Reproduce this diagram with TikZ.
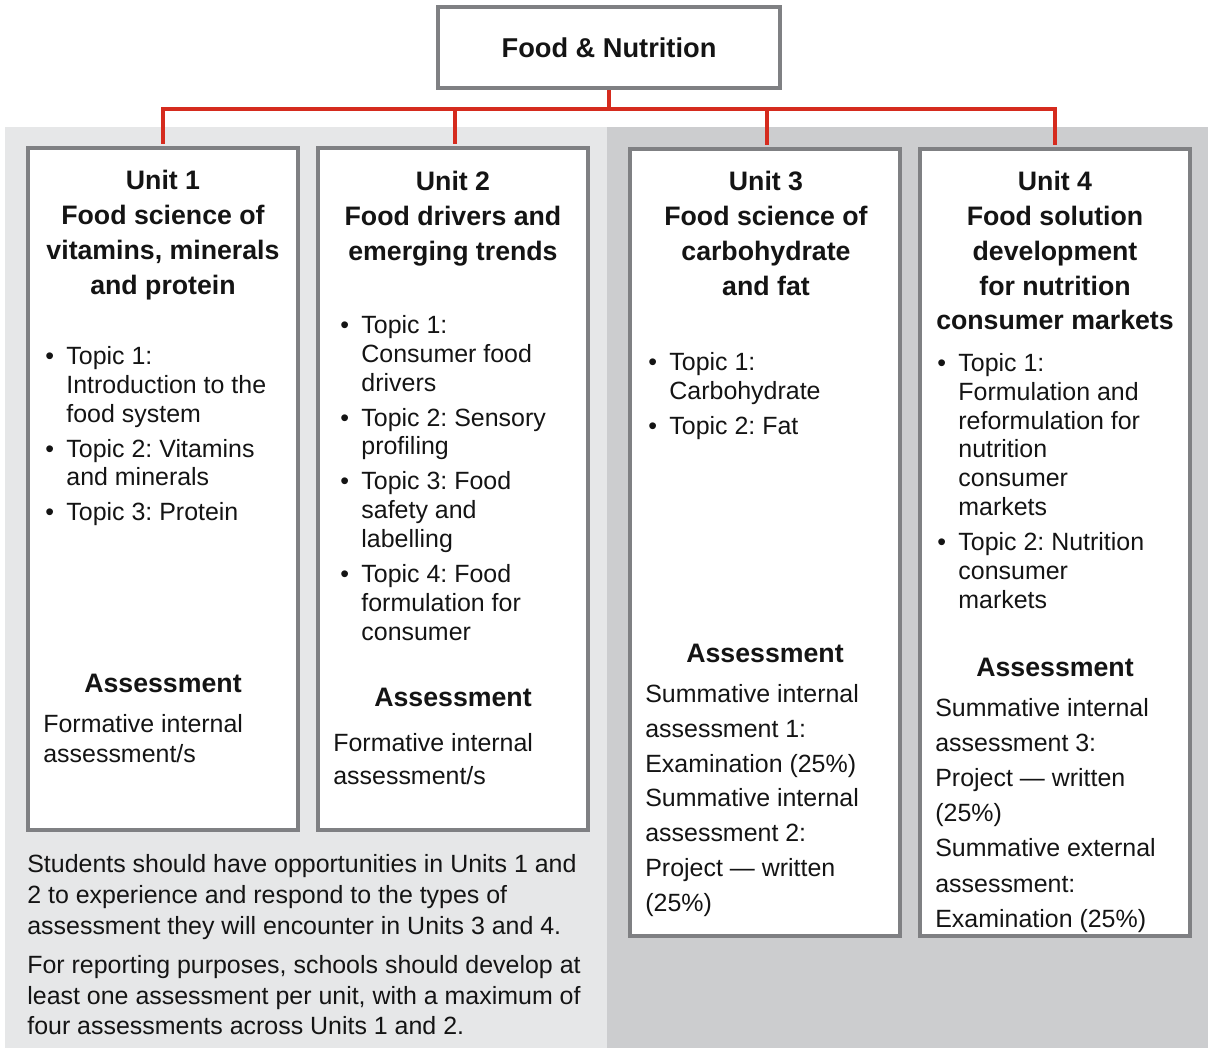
\documentclass[tikz,border=0pt]{standalone}
\usepackage{fontspec}
\setmainfont{Liberation Sans}
\usepackage{xcolor}
\definecolor{fnRed}{HTML}{D52B1E}
\definecolor{fnBorder}{HTML}{7F8083}
\definecolor{fnPaleGray}{HTML}{E6E7E8}
\definecolor{fnMidGray}{HTML}{CCCDCF}
\definecolor{fnText}{HTML}{141414}
\usepackage{tikz}
\usetikzlibrary{positioning,shadows,calc}
\frenchspacing
\newcommand{\topicdot}{\makebox[12pt][l]{\textbullet}}
\newcommand{\topicind}{\hspace*{12pt}}
\tikzset{
    topbox/.style={
        draw=fnBorder,
        fill=white,
        rectangle,
        line width=2.3pt,
        minimum width=6.84cm,
        minimum height=1.62cm,
        drop shadow={shadow xshift=0.8pt, shadow yshift=-0.8pt, opacity=0.3},
        font=\fontsize{15.5}{19}\selectfont\bfseries,
        text=fnText
    },
    unitbox/.style={
        draw=fnBorder,
        fill=white,
        rectangle,
        line width=2.3pt,
        anchor=north west,
        minimum width=5.42cm,
        drop shadow={shadow xshift=0.8pt, shadow yshift=-0.8pt, opacity=0.3}
    },
    redline/.style={
        draw=fnRed,
        line width=2.4pt,
        shorten >=1pt
    },
    unittitle/.style={
        anchor=north,
        align=center,
        inner sep=0pt,
        text=fnText,
        font=\fontsize{15.2}{19.8}\selectfont\bfseries
    },
    topiclist/.style={
        anchor=north west,
        align=left,
        inner sep=0pt,
        text=fnText,
        font=\fontsize{14.2}{16.4}\selectfont
    },
    assesshead/.style={
        inner sep=0pt,
        text=fnText,
        font=\fontsize{15.2}{19.8}\selectfont\bfseries
    },
    assesstext/.style={
        anchor=north west,
        align=left,
        inner sep=0pt,
        text=fnText,
        font=\fontsize{14.2}{#1}\selectfont
    },
    notetext/.style={
        anchor=north west,
        align=left,
        inner sep=0pt,
        text=fnText,
        font=\fontsize{14.2}{17.6}\selectfont
    }
}

\begin{document}
\begin{tikzpicture}[x=0.02cm, y=-0.02cm]
    \useasboundingbox (0,0) rectangle (1208,1048);

    % Background panels
    \fill[fnPaleGray] (5,127) rectangle (606.5,1048);
    \fill[fnMidGray] (606.5,127) rectangle (1208,1048);

    % Course and units
    \node[topbox] (course) at (609,47.5) {Food \& Nutrition};
    \node[unitbox, minimum height=13.66cm] (u1) at (25.5,145.5) {};
    \node[unitbox, minimum height=13.66cm] (u2) at (315.5,145.5) {};
    \node[unitbox, minimum height=15.74cm] (u3) at (627.5,147) {};
    \node[unitbox, minimum height=15.74cm] (u4) at (917.5,147) {};

    % Connectors
    \coordinate (hub) at (609,109);
    \draw[redline] (course.south) -- (hub) -| (u1.north);
    \draw[redline] (hub) -| ($(u2.north)+(2,0)$);
    \draw[redline] (hub) -| ($(u3.north)+(2,0)$);
    \draw[redline] (hub) -| (u4.north);

    % Unit 1
    \node[unittitle] (t1) at (163,170) {Unit 1\\Food science of\\vitamins, minerals\\and protein};
    \node[topiclist] (l1) at (45,346) {\topicdot Topic 1:\\\topicind Introduction to the\\\topicind food system\\[3.5pt]
        \topicdot Topic 2: Vitamins\\\topicind and minerals\\[3.5pt]
        \topicdot Topic 3: Protein};
    \node[assesshead] (h1) at (163,683) {Assessment};
    \node[assesstext=17] (a1) at (43,714) {Formative internal\\assessment/s};

    % Unit 2
    \node[unittitle] (t2) at (453,171) {Unit 2\\Food drivers and\\emerging trends};
    \node[topiclist] (l2) at (340,315) {\topicdot Topic 1:\\\topicind Consumer food\\\topicind drivers\\[3.5pt]
        \topicdot Topic 2: Sensory\\\topicind profiling\\[3.5pt]
        \topicdot Topic 3: Food\\\topicind safety and\\\topicind labelling\\[3.5pt]
        \topicdot Topic 4: Food\\\topicind formulation for\\\topicind consumer};
    \node[assesshead] (h2) at (453,697) {Assessment};
    \node[assesstext=18.7] (a2) at (333,733) {Formative internal\\assessment/s};

    % Unit 3
    \node[unittitle] (t3) at (766,171) {Unit 3\\Food science of\\carbohydrate\\and fat};
    \node[topiclist] (l3) at (648,352) {\topicdot Topic 1:\\\topicind Carbohydrate\\[3.5pt]
        \topicdot Topic 2: Fat};
    \node[assesshead] (h3) at (765,653) {Assessment};
    \node[assesstext=19.8] (a3) at (645,684) {Summative internal\\assessment 1:\\Examination (25\%)\\Summative internal\\assessment 2:\\Project — written\\(25\%)};

    % Unit 4
    \node[unittitle] (t4) at (1055,171) {Unit 4\\Food solution\\development\\for nutrition\\consumer markets};
    \node[topiclist] (l4) at (937,353) {\topicdot Topic 1:\\\topicind Formulation and\\\topicind reformulation for\\\topicind nutrition\\\topicind consumer\\\topicind markets\\[3.5pt]
        \topicdot Topic 2: Nutrition\\\topicind consumer\\\topicind markets};
    \node[assesshead] (h4) at (1055,667) {Assessment};
    \node[assesstext=20] (a4) at (935,698) {Summative internal\\assessment 3:\\Project — written\\(25\%)\\Summative external\\assessment:\\Examination (25\%)};

    % Note under Units 1 and 2
    \node[notetext] (note) at (27,854) {Students should have opportunities in Units 1 and\\2 to experience and respond to the types of\\assessment they will encounter in Units 3 and 4.\\[4.5pt]
        For reporting purposes, schools should develop at\\least one assessment per unit, with a maximum of\\four assessments across Units 1 and 2.};
\end{tikzpicture}
\end{document}
